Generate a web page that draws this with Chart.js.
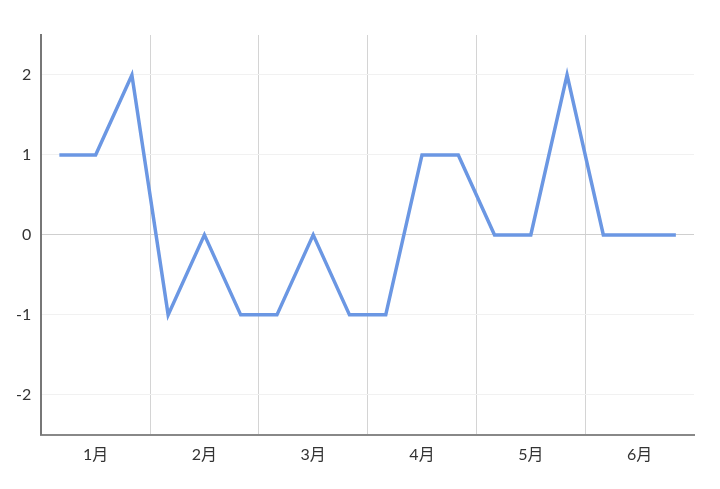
<!DOCTYPE html>
<html>
<head>
<meta charset="utf-8">
<script src="https://cdn.jsdelivr.net/npm/chart.js@4/dist/chart.umd.min.js"></script>
<style>
html, body { margin: 0; padding: 0; background: #fff; }
#wrap { width: 720px; height: 489px; position: relative; }
</style>
</head>
<body>
<div id="wrap"><canvas id="chart"></canvas></div>
<script>
// 18 points, three per month
var points = ['1-1','1-2','1-3','2-1','2-2','2-3','3-1','3-2','3-3','4-1','4-2','4-3','5-1','5-2','5-3','6-1','6-2','6-3']
var values = [1, 1, 2, -1, 0, -1, -1, 0, -1, -1, 1, 1, 0, 0, 2, 0, 0, 0]
var months = ['1月','2月','3月','4月','5月','6月']
var yTicks = [-2, -1, 0, 1, 2]

var tickFont = { family: 'Lato, "Noto Sans CJK SC", sans-serif', size: 16 }

var ctx = document.getElementById('chart').getContext('2d')
var chart = new Chart(ctx, {
    type: 'line',
    data: {
        labels: points,
        datasets: [{
            data: values,
            borderColor: '#6b97e3',
            borderWidth: 3.5,
            pointRadius: 0,
            lineTension: 0,
            fill: false,
            xAxisID: 'x'
        }]
    },
    options: {
        responsive: true,
        maintainAspectRatio: false,
        animation: false,
        layout: { padding: { top: 35, right: 26, left: 6, bottom: 15 } },
        plugins: { legend: { display: false }, tooltip: { enabled: false } },
        scales: {
            x: {
                type: 'category',
                display: false,
                offset: true
            },
            m: {
                type: 'category',
                labels: months,
                position: 'bottom',
                offset: true,
                grid: {
                    offset: true,
                    drawTicks: false,
                    lineWidth: 1,
                    color: function (c) {
                        return (c.index === undefined || c.index === 0) ? 'rgba(0,0,0,0)' : '#d4d4d4'
                    }
                },
                border: { color: '#888', width: 2 },
                ticks: { color: '#333', font: tickFont, padding: 10 }
            },
            y: {
                min: -2.5,
                max: 2.5,
                afterBuildTicks: function (axis) {
                    axis.ticks = yTicks.map(function (v) { return { value: v } })
                },
                grid: {
                    drawTicks: false,
                    color: function (c) {
                        return c.tick && c.tick.value === 0 ? '#cfcfcf' : '#f1f1f1'
                    }
                },
                border: { color: '#777', width: 2 },
                ticks: { color: '#333', font: tickFont, padding: 10 }
            }
        }
    }
})
</script>
</body>
</html>
